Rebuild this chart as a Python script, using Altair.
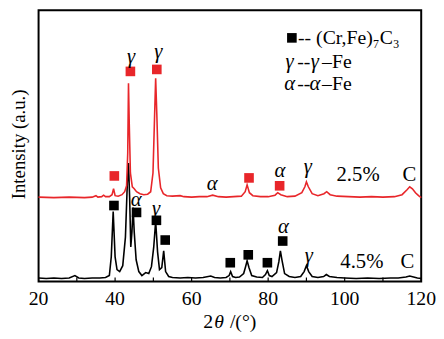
import altair as alt
import pandas as pd

# ---- data (2theta, intensity in arbitrary units) ----
black_x = [20, 22, 24, 26, 28, 29.5, 30.5, 32, 34, 36, 37.5, 38.5, 39.0, 39.5, 40.0, 40.5, 41.2, 42.0,
           42.7, 43.2, 43.5, 43.8, 44.1, 44.4, 44.7, 45.0, 45.5, 46.2, 47, 48, 48.8, 49.5, 50.1, 50.6,
           51.1, 51.6, 52.2, 52.7, 53.2, 54, 55, 57, 59, 61, 63, 65, 66, 67.5, 69, 69.8, 70.2, 70.7,
           71.5, 72.5, 73.6, 74.1, 74.5, 75.0, 75.7, 77, 78.5, 79.3, 79.8, 80.3, 81, 82.2, 82.8, 83.2,
           83.6, 84.3, 85.5, 87, 88.5, 89.4, 90, 90.6, 91.5, 93, 94.5, 95.2, 96, 98, 100, 103, 106,
           109, 112, 114, 116, 117, 118, 119, 120]
black_y = [3.5, 3, 3.5, 3, 3.5, 6, 3.5, 3, 3.5, 3.5, 4, 6, 25, 71, 25, 12, 10, 16,
           45, 100, 120, 85, 35, 50, 75, 50, 22, 10, 6, 9, 8, 15, 35, 61,
           30, 12, 14, 31, 10, 5, 4, 3.5, 4, 3.5, 4, 5.5, 4, 3.5, 4, 6, 10, 5,
           4, 4.5, 8, 15, 21, 14, 6, 4.5, 4, 7, 11, 6, 5, 9, 20, 31,
           22, 8, 5, 4, 5, 10, 16, 10, 5, 4, 5, 7, 5, 4, 3.5, 3, 3.5,
           3, 3.5, 3.5, 4.5, 5.5, 4.5, 3.5, 3]

red_x = [20, 24, 28, 32, 34, 35, 35.5, 36.5, 37, 37.5, 38.5, 39.2, 39.6, 40.0, 40.8, 41.8, 42.5, 43.0,
         43.3, 43.5, 43.7, 44.0, 44.5, 45.0, 45.6, 46.5, 47.5, 48.5, 49.3, 49.9, 50.3, 50.6, 50.9,
         51.3, 51.9, 52.6, 53.5, 55, 57, 58, 60, 62, 64, 65.5, 67, 69, 71, 73, 74, 74.5, 75.1, 76,
         78, 80, 81.8, 82.5, 83.3, 85, 87, 88.8, 89.6, 90, 90.5, 91.5, 93, 94.6, 95.3, 96.2, 98,
         101, 104, 107, 110, 113, 115, 116.3, 117, 117.7, 118.5, 119.3, 120]
red_y = [85.5, 85, 85.5, 85, 85.5, 87, 85.5, 86, 87.5, 86, 86, 88, 94, 87, 86.5, 88, 91, 97,
         130, 201, 160, 110, 96, 94, 91, 89, 88, 88.5, 91, 110, 165, 206, 170,
         115, 95, 89, 87, 86.5, 87, 86, 85.5, 86, 86, 87.5, 86, 85.5, 86, 86.5, 91, 98, 90, 87,
         86, 86, 87.5, 90, 88, 86, 86.5, 90, 96, 101, 96, 89, 87, 89, 91, 88, 86.5,
         86, 85.5, 86, 85.5, 86, 88, 93, 96, 94, 90, 87, 85]

red_sq_x = [39.8, 44.0, 50.9, 75.0, 83.0]
red_sq_y = [107, 213, 215, 105, 97]
black_sq_x = [39.7, 45.6, 50.8, 53.1, 70.1, 74.8, 79.8, 83.8, 86.2]
black_sq_y = [77, 70, 62, 42, 19, 27, 19, 41, 247]

greek_text = ["γ", "γ", "α", "α", "γ", "α", "γ", "α", "γ", "γ", "γ", "α", "α"]
greek_x = [44.2, 51.3, 65.4, 83.1, 90.4, 45.5, 50.7, 84.0, 90.6, 85.6, 92.2, 85.6, 92.2]
greek_y = [228, 233, 99, 112, 116, 83, 73, 55, 26, 222, 222, 200, 200]

plain_text = ["2.5%", "C", "4.5%", "C", "-- (Cr,Fe)₇C₃", "--", "–Fe", "--", "–Fe"]
plain_x = [103.5, 116.9, 104.5, 116.4, 87.8, 87.6, 94.1, 87.6, 94.1]
plain_y = [108, 108, 20, 20, 247, 222, 222, 200, 200]
plain_align = ["center", "center", "center", "center", "left", "left", "left", "left", "left"]

tick_vals = [20, 30, 40, 50, 60, 70, 80, 90, 100, 110, 120]
label_vals = [20, 40, 60, 80, 100, 120]
x_title = ["2", "θ", "/(°)"]
y_title = "Intensity (a.u.)"

FONT = "Liberation Serif"

xs = alt.Scale(domain=[20, 120], nice=False)
ys = alt.Scale(domain=[0, 275], nice=False)

X = alt.X("x:Q", scale=xs, axis=None)
Y = alt.Y("y:Q", scale=ys, axis=None)

df_b = pd.DataFrame({"x": black_x, "y": black_y})
df_r = pd.DataFrame({"x": red_x, "y": red_y})

black_line = alt.Chart(df_b).mark_line(color="black", strokeWidth=1.6).encode(x=X, y=Y)
red_line = alt.Chart(df_r).mark_line(color="#e8262a", strokeWidth=1.6).encode(x=X, y=Y)

red_sq = alt.Chart(pd.DataFrame({"x": red_sq_x, "y": red_sq_y})).mark_square(
    color="#e8262a", size=95, opacity=1).encode(x=X, y=Y)
black_sq = alt.Chart(pd.DataFrame({"x": black_sq_x, "y": black_sq_y})).mark_square(
    color="black", size=95, opacity=1).encode(x=X, y=Y)

greek_df = pd.DataFrame({"x": greek_x, "y": greek_y, "t": greek_text})
greek = alt.Chart(greek_df).mark_text(font=FONT, fontSize=21, fontStyle="italic", color="black",
                                      baseline="middle", align="center").encode(x=X, y=Y, text="t:N")

plain_df = pd.DataFrame({"x": plain_x, "y": plain_y, "t": plain_text, "a": plain_align})
plain_c = alt.Chart(plain_df[plain_df.a == "center"]).mark_text(
    font=FONT, fontSize=21, color="black", baseline="middle", align="center").encode(
    x=X, y=Y, text="t:N")
plain_l = alt.Chart(plain_df[plain_df.a == "left"]).mark_text(
    font=FONT, fontSize=20, color="black", baseline="middle", align="left").encode(
    x=X, y=Y, text="t:N")

ticks = alt.Chart(pd.DataFrame({"x": tick_vals})).mark_rule(color="black", strokeWidth=1.2).encode(
    x=X, y=alt.value(275), y2=alt.value(271))

# axis tick labels (positioned through the x scale)
xlabels = alt.Chart(pd.DataFrame({"x": label_vals, "t": [str(v) for v in label_vals]})).mark_text(
    font=FONT, fontSize=20, color="black", baseline="middle", align="center").encode(
    x=X, y=alt.value(293), text="t:N")

# axis titles
xt1 = alt.Chart(pd.DataFrame({"t": [x_title[0]]})).mark_text(
    font=FONT, fontSize=20, color="black", baseline="middle", align="right").encode(
    x=alt.value(177), y=alt.value(316), text="t:N")
xt2 = alt.Chart(pd.DataFrame({"t": [x_title[1]]})).mark_text(
    font=FONT, fontSize=20, fontStyle="italic", color="black", baseline="middle", align="center").encode(
    x=alt.value(183), y=alt.value(316), text="t:N")
xt3 = alt.Chart(pd.DataFrame({"t": [x_title[2]]})).mark_text(
    font=FONT, fontSize=20, color="black", baseline="middle", align="left").encode(
    x=alt.value(194), y=alt.value(316), text="t:N")
yt = alt.Chart(pd.DataFrame({"t": [y_title]})).mark_text(
    font=FONT, fontSize=19, color="black", baseline="middle", align="center", angle=270).encode(
    x=alt.value(-20), y=alt.value(136), text="t:N")

chart = alt.layer(black_line, red_line, ticks, red_sq, black_sq, greek, plain_c, plain_l,
                  xlabels, xt1, xt2, xt3, yt).properties(
    width=388, height=275,
    background="white",
    autosize=alt.AutoSizeParams(type="none"),
    padding={"left": 31, "top": 0, "right": 15, "bottom": 52},
).configure_view(stroke="black", strokeWidth=2)

chart.save("out.html", embed_options={"renderer": "svg", "actions": False})
